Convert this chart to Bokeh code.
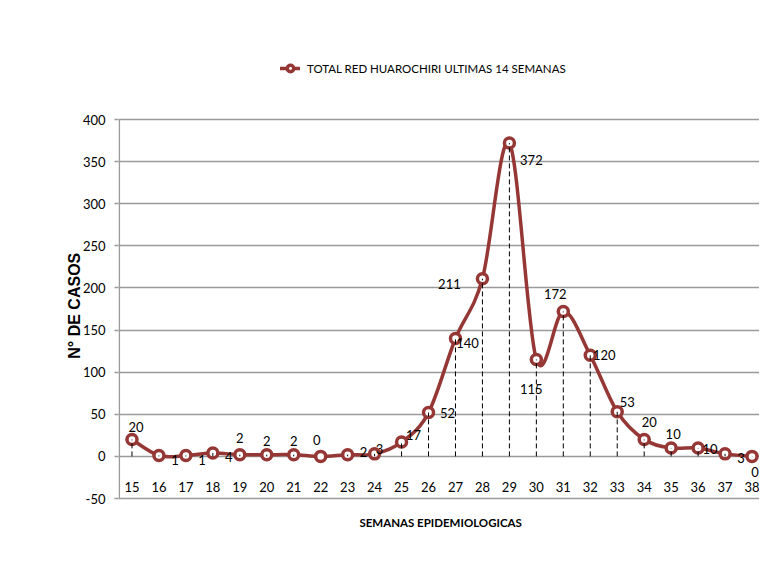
from bokeh.plotting import figure
from bokeh.models import (ColumnDataSource, LabelSet, Label, Legend, LegendItem,
                          FixedTicker, Range1d)
from bokeh.core.properties import value
from bokeh.embed import file_html
from bokeh.resources import INLINE

# ---------------- data ----------------
weeks = [15, 16, 17, 18, 19, 20, 21, 22, 23, 24, 25, 26, 27, 28, 29, 30,
         31, 32, 33, 34, 35, 36, 37, 38]
cases = [20, 1, 1, 4, 2, 2, 2, 0, 2, 3, 17, 52, 140, 211, 372, 115,
         172, 120, 53, 20, 10, 10, 3, 0]
y_ticks = [-50, 0, 50, 100, 150, 200, 250, 300, 350, 400]
series_name = "TOTAL RED HUAROCHIRI ULTIMAS 14 SEMANAS"
x_title = "SEMANAS  EPIDEMIOLOGICAS"
y_title = "N°  DE CASOS"

# data-label placement (screen px: right, up)
label_dx = [4, 16, 16, 16, 0, 0, 0, -4, 16, 5, 12, 19, 12, -33, 22, -5,
            -8, 14, 10, 5, 2, 12, 16, 3]
label_dy = [13, -4, -4, -4, 17, 14, 14, 16, 3, 5, 7, 0, -5, -5, -17, -29,
            18, 0, 10, 18, 14, -1, -4, -16]

RED = "#953735"
GRID = "#9a9a9a"
FONT = "Lato"

W, H = 759, 550
LEFT = 118           # plot-area left edge
TOP = 56             # frame top (keeps the value-axis title centred)
Y400 = 119           # pixel row of the 400 gridline
KX = 26.958          # px per week
KY = 379 / 450       # px per case
y_top = 400 + (Y400 - TOP) / KY
y_bot = 400 - (H - Y400) / KY
x_lo = min(weeks) - 0.5
x_hi = x_lo + (W - LEFT) / KX

p = figure(width=W, height=H, output_backend="svg", toolbar_location=None,
           x_range=Range1d(x_lo, x_hi), y_range=Range1d(y_bot, y_top),
           min_border_left=LEFT, min_border_right=0, min_border_top=TOP,
           min_border_bottom=0)
p.outline_line_color = None
p.background_fill_color = "white"
p.border_fill_color = "white"

# axes
p.xaxis.visible = False
p.xgrid.visible = False
p.yaxis.ticker = FixedTicker(ticks=y_ticks)
p.ygrid.ticker = FixedTicker(ticks=y_ticks)
p.ygrid.grid_line_color = GRID
p.ygrid.grid_line_width = 1.5
p.yaxis.axis_line_color = None
p.yaxis.major_tick_line_color = GRID
p.yaxis.major_tick_line_width = 1.5
p.yaxis.major_tick_out = 4
p.yaxis.major_tick_in = 0
p.yaxis.minor_tick_line_color = None
p.yaxis.major_label_standoff = 9
p.yaxis.major_label_overrides = {t: str(t) for t in y_ticks}
p.yaxis.major_label_text_font = FONT
p.yaxis.major_label_text_font_size = "13px"
p.yaxis.major_label_text_color = "black"
p.yaxis.axis_label = y_title
p.yaxis.axis_label_text_font = "Liberation Sans"
p.yaxis.axis_label_text_font_style = "bold"
p.yaxis.axis_label_text_font_size = "16px"
p.yaxis.axis_label_text_color = "black"
p.yaxis.axis_label_standoff = -3

# value-axis line, only over the tick span
p.segment(x0=[x_lo + 0.03], y0=[min(y_ticks)], x1=[x_lo + 0.03],
          y1=[max(y_ticks)], line_color=GRID, line_width=1.5)

# smoothed line (Catmull-Rom bezier control points)
n = len(weeks)
x0, y0, x1, y1, cx0, cy0, cx1, cy1 = [], [], [], [], [], [], [], []
for i in range(n - 1):
    a, b = max(i - 1, 0), min(i + 2, n - 1)
    x0.append(weeks[i]); y0.append(cases[i])
    x1.append(weeks[i + 1]); y1.append(cases[i + 1])
    cx0.append(weeks[i] + (weeks[i + 1] - weeks[a]) / 6)
    cy0.append(cases[i] + (cases[i + 1] - cases[a]) / 6)
    cx1.append(weeks[i + 1] - (weeks[b] - weeks[i]) / 6)
    cy1.append(cases[i + 1] - (cases[b] - cases[i]) / 6)
br = p.bezier(x0=x0, y0=y0, x1=x1, y1=y1, cx0=cx0, cy0=cy0, cx1=cx1, cy1=cy1,
              line_color=RED, line_width=3.5, line_cap="round")

src = ColumnDataSource(dict(x=weeks, y=cases, zero=[0] * n,
                            lab=[str(v) for v in cases],
                            wk=[str(w) for w in weeks],
                            dx=label_dx, dy=label_dy))
sr = p.scatter("x", "y", source=src, marker="circle", size=10,
               fill_color="white", line_color=RED, line_width=3.5)
p.segment(x0="x", y0="zero", x1="x", y1="y", source=src, line_color="black",
          line_width=1, line_dash="5 3")

# data labels
p.add_layout(LabelSet(x="x", y="y", text="lab", source=src, x_offset="dx",
                      y_offset="dy", text_align="center",
                      text_baseline="middle", text_font=value(FONT),
                      text_font_size="13px", text_color="black"))
# category labels
p.add_layout(LabelSet(x="x", y="zero", text="wk", source=src, y_offset=-31,
                      text_align="center", text_baseline="middle",
                      text_font=value(FONT), text_font_size="13px",
                      text_color="black"))

# x title
p.add_layout(Label(x=(min(weeks) + max(weeks)) / 2, y=min(y_ticks),
                   y_offset=-24, text=x_title,
                   text_align="center", text_baseline="middle",
                   text_font=FONT, text_font_style="bold",
                   text_font_size="11.5px", text_color="black"))

# legend
legend = Legend(items=[LegendItem(label=series_name, renderers=[br, sr])],
                location=(280 - LEFT, H - 76), padding=0, margin=0, spacing=0,
                glyph_width=20, glyph_height=16, label_standoff=7,
                border_line_color=None, background_fill_alpha=0,
                label_text_font=FONT, label_text_font_size="11.5px",
                label_text_color="black")
p.add_layout(legend)

open("out.html", "w").write(file_html(p, INLINE))
